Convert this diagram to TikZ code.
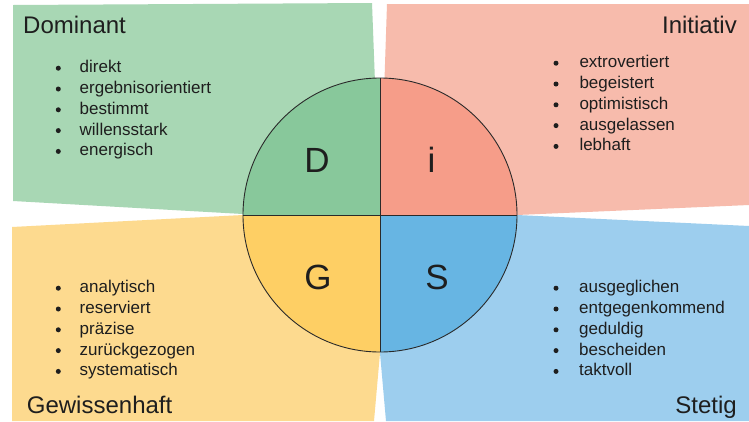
\documentclass[tikz,border=0pt]{standalone}
\usepackage{fontspec}
\setmainfont{Liberation Sans}
\definecolor{gO}{HTML}{A8D7B4}
\definecolor{gC}{HTML}{88C89B}
\definecolor{pO}{HTML}{F7BBAC}
\definecolor{pC}{HTML}{F69D89}
\definecolor{yO}{HTML}{FDDA8F}
\definecolor{yC}{HTML}{FECF64}
\definecolor{bO}{HTML}{9DCEEE}
\definecolor{bC}{HTML}{67B5E3}
\definecolor{ink}{HTML}{1E1E1E}
\definecolor{rim}{HTML}{2A2A2A}
\begin{document}
\begin{tikzpicture}[x=1pt,y=-1pt,
  title/.style={font=\fontsize{24}{24}\selectfont, text=ink, inner sep=0},
  item/.style={anchor=base west, font=\fontsize{17}{17}\selectfont, text=ink, inner sep=0},
  bul/.style={circle, fill=ink, inner sep=0, minimum size=5pt},
  letter/.style={anchor=base, font=\fontsize{35}{35}\selectfont, text=ink, inner sep=0},
  rimline/.style={draw=rim, line width=0.9pt}]
\useasboundingbox (0,0) rectangle (749,421);
\fill[white] (0,0) rectangle (749,421);
% outer quadrants
\fill[gO] (13,5) -- (372,3) -- (380,215) -- (243,214) -- (13,201) -- cycle;
\fill[pO] (387,4) -- (749,4) -- (749,205) -- (517,215) -- (380,215) -- cycle;
\fill[yO] (12,227) -- (243,215) -- (380,215) -- (380,353) -- (374,421) -- (12,421) -- cycle;
\fill[bO] (517,215) -- (749,226) -- (749,421) -- (386,421) -- (380,353) -- (380,215) -- cycle;
% circle quadrants
\begin{scope}
  \clip (380,215) circle (137);
  \fill[gC] (243,78) rectangle (380,215);
  \fill[pC] (380,78) rectangle (517,215);
  \fill[yC] (243,215) rectangle (380,352);
  \fill[bC] (380,215) rectangle (517,352);
\end{scope}
\node[circle, rimline, minimum size=274pt, inner sep=0] (disc) at (380,215) {};
\draw[rimline] (disc.north) -- (disc.south);
\draw[rimline] (disc.west) -- (disc.east);
% letters
\node[letter] (lD) at (317,172.3) {D};
\node[letter] (lI) at (431.5,172.3) {i};
\node[letter] (lG) at (318,289.3) {G};
\node[letter] (lS) at (437,289.3) {S};
% titles
\node[title, anchor=base west] (tD) at (23,33.3) {Dominant};
\node[title, anchor=base east] (tI) at (737,33.3) {Initiativ};
\node[title, anchor=base west] (tG) at (26.7,413) {Gewissenhaft};
\node[title, anchor=base east] (tS) at (737,413) {Stetig};
% lists
\foreach \t [count=\k] in {direkt,ergebnisorientiert,bestimmt,willensstark,energisch}{
  \pgfmathsetmacro{\yy}{72.7+20.8*(\k-1)}
  \node[item] (d\k) at (79.5,\yy) {\t};
  \node[bul] (db\k) at (58.3,\yy-4.5) {};
}
\foreach \t [count=\k] in {extrovertiert,begeistert,optimistisch,ausgelassen,lebhaft}{
  \pgfmathsetmacro{\yy}{67.7+20.8*(\k-1)}
  \node[item] (i\k) at (579.3,\yy) {\t};
  \node[bul] (ib\k) at (556,\yy-4.5) {};
}
\foreach \t [count=\k] in {analytisch,reserviert,präzise,zurückgezogen,systematisch}{
  \pgfmathsetmacro{\yy}{292.7+20.8*(\k-1)}
  \node[item] (g\k) at (79.5,\yy) {\t};
  \node[bul] (gb\k) at (58.3,\yy-4.5) {};
}
\foreach \t [count=\k] in {ausgeglichen,entgegenkommend,geduldig,bescheiden,taktvoll}{
  \pgfmathsetmacro{\yy}{292.7+20.8*(\k-1)}
  \node[item] (s\k) at (579,\yy) {\t};
  \node[bul] (sb\k) at (556,\yy-4.5) {};
}
\end{tikzpicture}
\end{document}
